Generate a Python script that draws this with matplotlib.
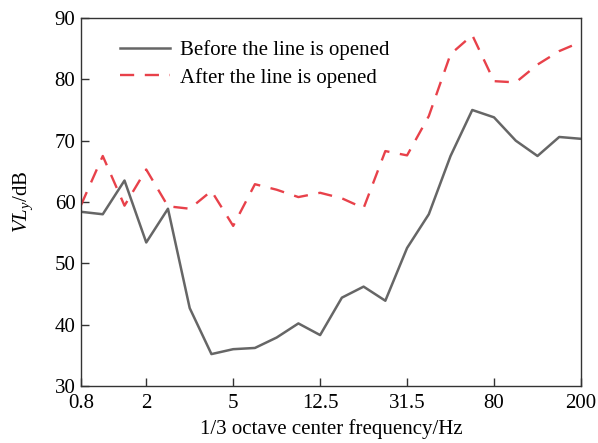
import matplotlib
matplotlib.use("Agg")
import matplotlib.pyplot as plt

bands = ["0.8", "1.25", "1.6", "2", "2.5", "3.15", "4", "5", "6.3", "8", "10", "12.5",
         "16", "20", "25", "31.5", "40", "50", "63", "80", "100", "125", "160", "200"]
before = [58.4, 58.0, 63.5, 53.4, 58.9, 42.7, 35.2, 36.0, 36.2, 37.9, 40.2, 38.3,
          44.4, 46.2, 43.9, 52.5, 58.0, 67.5, 75.0, 73.8, 70.0, 67.5, 70.6, 70.3]
after = [59.5, 67.5, 59.4, 65.3, 59.3, 58.9, 61.8, 56.1, 62.9, 62.0, 60.8, 61.5,
         60.6, 59.0, 68.3, 67.6, 74.0, 84.1, 87.2, 79.7, 79.5, 82.4, 84.6, 86.1]
tick_labels = ["0.8", "2", "5", "12.5", "31.5", "80", "200"]

plt.rcParams['font.family'] = ['Liberation Serif', 'DejaVu Serif']
plt.rcParams['mathtext.fontset'] = 'custom'
plt.rcParams['mathtext.rm'] = 'Liberation Serif'
plt.rcParams['mathtext.it'] = 'Liberation Serif:italic'

fig = plt.figure(figsize=(5.98, 4.43), dpi=100)
ax = fig.add_axes([0.1355, 0.1287, 0.836, 0.8307])

x = list(range(len(bands)))
ax.plot(x, before, color='#666666', lw=1.8, label='Before the line is opened')
ax.plot(x, after, color='#e8414a', lw=1.7, dashes=(6, 4.5), label='After the line is opened')

ax.set_xlim(0, len(bands) - 1)
ax.set_ylim(30, 90)
ax.set_xticks([bands.index(t) for t in tick_labels])
ax.set_xticklabels(tick_labels)
ax.set_yticks([30, 40, 50, 60, 70, 80, 90])

for s in ax.spines.values():
    s.set_color('#333333')
    s.set_linewidth(1.0)
ax.tick_params(direction='in', length=6, width=1.0, color='#333333', labelsize=15)
ax.tick_params(axis='x', pad=6)
ax.tick_params(axis='y', pad=4)

ax.set_xlabel('1/3 octave center frequency/Hz', fontsize=15, labelpad=4)
ax.set_ylabel(r'$\mathit{VL}_{\mathit{y}}$/dB', fontsize=15, labelpad=14)

ax.legend(loc='upper left', bbox_to_anchor=(0.04, 0.99), frameon=False, fontsize=15,
          handlelength=2.4, handletextpad=0.5, labelspacing=0.35)

fig.savefig('out.png', dpi=100)
